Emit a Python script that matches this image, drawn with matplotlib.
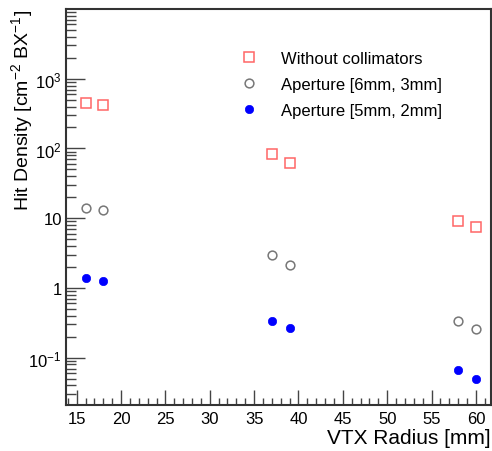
import matplotlib.pyplot as plt
from matplotlib.ticker import FixedLocator, LogLocator, MultipleLocator, NullFormatter

plt.rcParams["font.family"] = ["Liberation Sans", "DejaVu Sans"]
plt.rcParams["mathtext.fontset"] = "custom"
plt.rcParams["mathtext.rm"] = "Liberation Sans"
plt.rcParams["mathtext.default"] = "regular"

# VTX layer radii [mm]
radius = [16, 18, 37, 39, 58, 60]

# hit density [cm^-2 BX^-1]
no_collimator = [454, 425, 83, 61, 9.1, 7.5]
aperture_6_3 = [13.9, 13.2, 3.0, 2.15, 0.334, 0.257]
aperture_5_2 = [1.39, 1.25, 0.334, 0.268, 0.067, 0.049]

ytick_vals = [0.1, 1, 10, 100, 1000]
ytick_labels = [r"$10^{-1}$", "1", "10", r"$10^{2}$", r"$10^{3}$"]

fig = plt.figure(figsize=(4.92, 4.52), dpi=100)
ax = fig.add_axes([66 / 492, 46 / 452, 425 / 492, 396 / 452])

ax.plot(radius, no_collimator, ls="none", marker="s", ms=6.6, mfc="none",
        mec="#ff6666", mew=1.1, label="Without collimators")
ax.plot(radius, aperture_6_3, ls="none", marker="o", ms=6.3, mfc="none",
        mec="#777777", mew=1.1, label="Aperture [6mm, 3mm]")
ax.plot(radius, aperture_5_2, ls="none", marker="o", ms=6.0, mfc="#0000ff",
        mec="#0000ff", mew=0.5, label="Aperture [5mm, 2mm]")

ax.set_yscale("log")
ax.set_xlim(13.8, 61.7)
ax.set_ylim(0.021, 1e4)

ax.xaxis.set_major_locator(MultipleLocator(5))
ax.xaxis.set_minor_locator(MultipleLocator(1))
ax.yaxis.set_major_locator(FixedLocator(ytick_vals))
ax.set_yticklabels(ytick_labels)
ax.yaxis.set_minor_locator(LogLocator(base=10, subs=range(2, 10)))
ax.yaxis.set_minor_formatter(NullFormatter())

ax.tick_params(which="both", direction="in", top=False, right=False,
               labelsize=12, color="#444444")
ax.tick_params(axis="x", which="major", length=11, width=1, pad=4)
ax.tick_params(axis="x", which="minor", length=5, width=1)
ax.tick_params(axis="y", which="major", length=14, width=1, pad=3)
ax.tick_params(axis="y", which="minor", length=7, width=1)

for side in ax.spines.values():
    side.set_linewidth(1.5)
    side.set_color("#333333")

ax.set_xlabel("VTX Radius [mm]", fontsize=15, loc="right", labelpad=2)
ax.set_ylabel(r"Hit Density [cm$^{-2}$ BX$^{-1}$]", fontsize=14, loc="top")
ax.yaxis.set_label_coords(-0.072, 1.0)

ax.legend(loc="upper left", bbox_to_anchor=(0.395, 0.912), frameon=False,
          fontsize=12, handlelength=1.0, handletextpad=1.4, labelspacing=0.68,
          borderaxespad=0)

fig.savefig("out.png", dpi=100)
